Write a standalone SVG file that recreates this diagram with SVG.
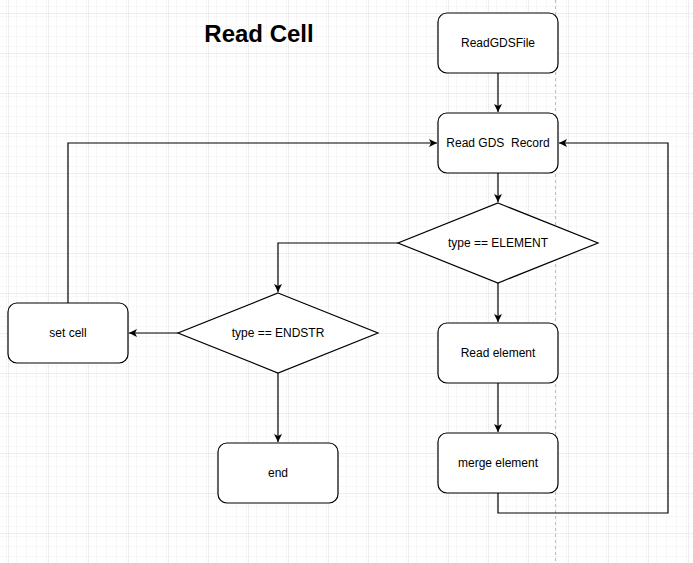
<svg xmlns="http://www.w3.org/2000/svg" width="693" height="563" viewBox="0 0 693 563">
<style>
.node{fill:#fff;stroke:#000;stroke-width:1.2}
.lbl{font-family:"Liberation Sans",Arial,sans-serif;font-size:12px;fill:#000;text-anchor:middle;dominant-baseline:central;white-space:pre}
.edge{fill:none;stroke:#000;stroke-width:1.2}
.title{font-family:"Liberation Sans",Arial,sans-serif;font-size:24px;font-weight:bold;fill:#000;text-anchor:middle}
</style>
<defs>
<pattern id="minor" width="10" height="10" patternUnits="userSpaceOnUse" patternTransform="translate(8,13)">
<path d="M10,0 L0,0 L0,10" fill="none" stroke="#efefef" stroke-width="1"/>
</pattern>
<pattern id="major" width="40" height="40" patternUnits="userSpaceOnUse" patternTransform="translate(8,13)">
<rect width="40" height="40" fill="url(#minor)"/>
<path d="M40,0 L0,0 L0,40" fill="none" stroke="#dedede" stroke-width="1"/>
</pattern>
<marker id="arr" markerWidth="10" markerHeight="10" viewBox="-9 -5 10 10" refX="0" refY="0" orient="auto" markerUnits="userSpaceOnUse">
<path d="M0,0 L-8,-4 L-6,0 L-8,4 Z" fill="#000"/>
</marker>
</defs>
<rect width="693" height="563" fill="#fff"/>
<rect width="693" height="563" fill="url(#major)"/>
<line x1="555.5" y1="0" x2="555.5" y2="563" stroke="#bdbdbd" stroke-dasharray="3,3"/>
<text class="title" x="259" y="42">Read Cell</text>
<g id="edges">
<path class="edge" d="M498,73 L498,112" marker-end="url(#arr)"/>
<path class="edge" d="M498,173 L498,202" marker-end="url(#arr)"/>
<path class="edge" d="M498,283 L498,322" marker-end="url(#arr)"/>
<path class="edge" d="M498,383 L498,432" marker-end="url(#arr)"/>
<path class="edge" d="M498,493 L498,513 L668,513 L668,143 L559,143" marker-end="url(#arr)"/>
<path class="edge" d="M398,243 L278,243 L278,292" marker-end="url(#arr)"/>
<path class="edge" d="M178,333 L129,333" marker-end="url(#arr)"/>
<path class="edge" d="M278,373 L278,442" marker-end="url(#arr)"/>
<path class="edge" d="M68,303 L68,143 L437,143" marker-end="url(#arr)"/>
</g>
<g id="readGDSFile"><rect class="node" x="438" y="13" width="120" height="60" rx="9"/><text class="lbl" x="498" y="43">ReadGDSFile</text></g>
<g id="readGDSRecord"><rect class="node" x="438" y="113" width="120" height="60" rx="9"/><text class="lbl" x="498" y="143" xml:space="preserve">Read GDS  Record</text></g>
<g id="typeElement"><path class="node" d="M498,203 L598,243 L498,283 L398,243 Z"/><text class="lbl" x="498" y="243">type == ELEMENT</text></g>
<g id="typeEndstr"><path class="node" d="M278,293 L378,333 L278,373 L178,333 Z"/><text class="lbl" x="278" y="333">type == ENDSTR</text></g>
<g id="setCell"><rect class="node" x="8" y="303" width="120" height="60" rx="9"/><text class="lbl" x="68" y="333">set cell</text></g>
<g id="readElement"><rect class="node" x="438" y="323" width="120" height="60" rx="9"/><text class="lbl" x="498" y="353">Read element</text></g>
<g id="mergeElement"><rect class="node" x="438" y="433" width="120" height="60" rx="9"/><text class="lbl" x="498" y="463">merge element</text></g>
<g id="end"><rect class="node" x="218" y="443" width="120" height="60" rx="9"/><text class="lbl" x="278" y="473">end</text></g>
</svg>
